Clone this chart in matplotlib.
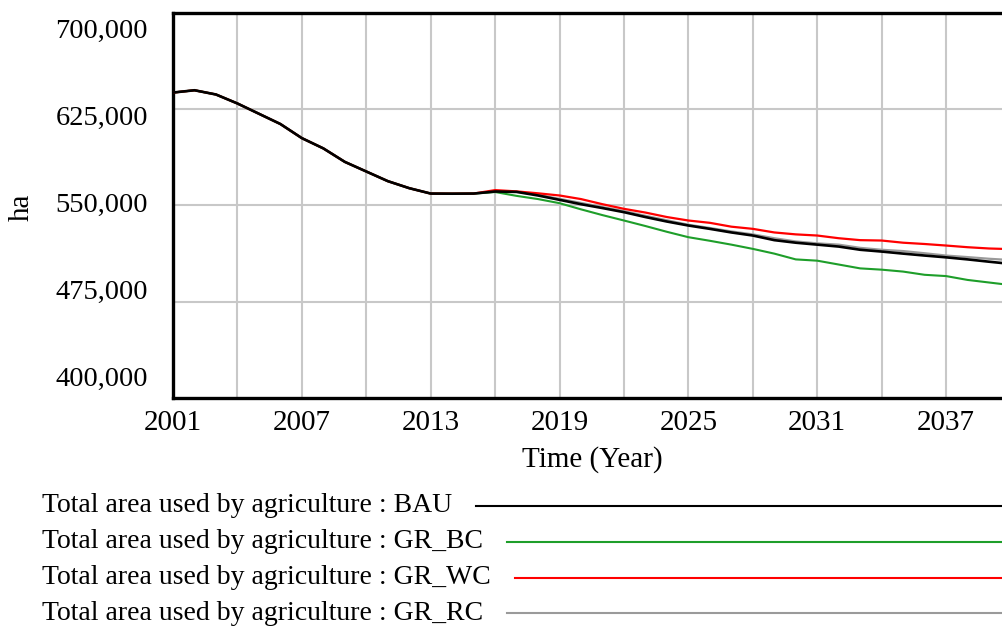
import matplotlib
matplotlib.use("Agg")
import matplotlib.pyplot as plt
from matplotlib.lines import Line2D
import matplotlib.transforms as mtransforms

years = list(range(2001, 2041))
hist = [638000, 639800, 636500, 629500, 621500, 613500, 602500, 594500, 584000,
        576500, 569000, 563500, 559300, 559200, 559300]
bau_f = [560.9, 560.6, 557.8, 554.4, 551.0, 548.0, 544.8, 541.0, 537.5, 534.4,
         531.8, 529.0, 526.6, 523.0, 521.0, 519.5, 518.0, 515.5, 514.1, 512.5,
         511.0, 509.6, 508.0, 506.2, 504.5]
bc_f = [560.5, 557.5, 555.0, 551.8, 547.0, 542.5, 538.3, 534.0, 529.5, 525.3,
        522.5, 519.5, 516.2, 512.5, 508.0, 507.0, 504.0, 501.0, 500.0, 498.5,
        496.0, 495.0, 492.0, 490.0, 488.0]
wc_f = [562.0, 561.0, 559.5, 557.8, 555.0, 551.0, 547.4, 544.5, 541.0, 538.3,
        536.5, 533.5, 531.8, 529.0, 527.5, 526.6, 524.5, 523.0, 522.7, 521.0,
        520.0, 518.8, 517.5, 516.5, 516.0]
rc_f = [560.9, 560.6, 558.3, 555.2, 552.0, 548.8, 545.6, 542.0, 538.5, 535.0,
        532.5, 529.8, 527.5, 524.5, 522.0, 520.5, 519.5, 517.0, 515.5, 514.5,
        512.8, 511.0, 509.8, 508.5, 507.5]

bau = hist + [v * 1000 for v in bau_f]
gr_bc = hist + [v * 1000 for v in bc_f]
gr_wc = hist + [v * 1000 for v in wc_f]
gr_rc = hist + [v * 1000 for v in rc_f]

series_names = ["Total area used by agriculture : BAU",
                "Total area used by agriculture : GR_BC",
                "Total area used by agriculture : GR_WC",
                "Total area used by agriculture : GR_RC"]
series_colors = ["#000000", "#1e9e2a", "#ff0000", "#9a9a9a"]

x_ticks = list(range(2001, 2040, 6))
x_grid = list(range(2001, 2041, 3))
y_ticks = [400000, 475000, 550000, 625000, 700000]
y_labels = ["400,000", "475,000", "550,000", "625,000", "700,000"]

plt.rcParams['font.family'] = ['Liberation Serif', 'DejaVu Serif']
FS = 21

fig = plt.figure(figsize=(10.03, 6.28), dpi=100)
ax = fig.add_axes([173 / 1003, 1 - 398 / 628, 1 - 173 / 1003, (398 - 13) / 628])

ax.set_xlim(2001, 2039.65)
ax.set_ylim(400000, 700000)

for g in x_grid:
    ax.axvline(g, color="#c8c8c8", lw=1.5, zorder=0)
for g in y_ticks[1:-1]:
    ax.axhline(g, color="#c8c8c8", lw=1.5, zorder=0)

ax.plot(years, gr_rc, color=series_colors[3], lw=1.6, zorder=2)
ax.plot(years, gr_bc, color=series_colors[1], lw=1.5, zorder=2)
ax.plot(years, gr_wc, color=series_colors[2], lw=1.6, zorder=3)
ax.plot(years, bau, color=series_colors[0], lw=1.9, zorder=4)

ax.set_xticks(x_ticks)
ax.set_xticklabels([str(t) for t in x_ticks], fontsize=FS)
ax.tick_params(axis="x", length=0, pad=9)
ax.set_yticks([])

trans = mtransforms.blended_transform_factory(ax.transAxes, ax.transData)
for v, lab in zip(y_ticks, y_labels):
    vy = 550000 + (v - 550000) * 0.905
    ax.text(-0.030, vy, lab, transform=trans, ha="right", va="center", fontsize=20.5)

for side in ["left", "bottom", "top"]:
    ax.spines[side].set_linewidth(2.4)
ax.spines["right"].set_visible(False)

fig.text(592 / 1003, 1 - 460 / 628, "Time (Year)", ha="center", va="center", fontsize=FS)
fig.text(22 / 1003, 1 - 207 / 628, "ha", ha="center", va="center", rotation=90, fontsize=FS)

fig.canvas.draw()
renderer = fig.canvas.get_renderer()
row_y = [506, 542, 578, 613]
for name, col, ypx in zip(series_names, series_colors, row_y):
    t = fig.text(42 / 1003, 1 - ypx / 628, name, ha="left", va="center", fontsize=20)
    bb = t.get_window_extent(renderer=renderer)
    x0 = (bb.x1 + 24) / fig.bbox.width
    fig.add_artist(Line2D([x0, 1.0], [1 - ypx / 628, 1 - ypx / 628], color=col, lw=1.5,
                          transform=fig.transFigure))

fig.savefig("out.png", dpi=100)
